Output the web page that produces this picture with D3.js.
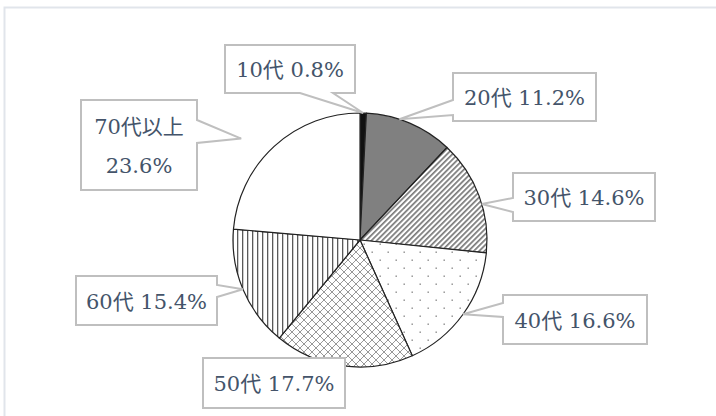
<!DOCTYPE html>
<html>
<head>
<meta charset="utf-8">
<script src="https://cdn.jsdelivr.net/npm/d3@7"></script>
<style>
  body { margin:0; background:#fff; }
</style>
</head>
<body>
<div id="viz-container"></div>
<script>
// data
let ages = ["10代","20代","30代","40代","50代","60代","70代以上"];
let shares = [0.8, 11.2, 14.6, 16.6, 17.7, 15.4, 23.6];

// fill for each slice (pattern ids)
let fills = ["#111","#808080","url(#p30)","url(#p40)","url(#p50)","url(#p60)","#fff"];

// callout boxes: x,y,w,h, which side the pointer leaves from, where it leaves,
// tip distance (x radius) and a small angle nudge in degrees
let boxes = [
  {x:225, y:45,  w:130, h:48, side:"bottom", b1:300, b2:333, tipR:1.0, nudge:0},
  {x:453, y:73,  w:143, h:48, side:"left",   b1:100, b2:115, tipR:1.0, nudge:-5},
  {x:513, y:173, w:142, h:48, side:"left",   b1:198, b2:212, tipR:1.0, nudge:4},
  {x:503, y:295, w:144, h:49, side:"left",   b1:303, b2:317, tipR:1.0, nudge:0},
  {x:203, y:358, w:142, h:50, side:"none"},
  {x:76,  y:276, w:141, h:49, side:"right",  b1:285, b2:297, tipR:1.0, nudge:0},
  {x:81,  y:100, w:116, h:90, side:"right",  b1:120, b2:143, tipR:1.23, nudge:-7, wrap:true}
];

let cx = 360, cy = 240, r = 127;

let viz = d3.select("#viz-container")
  .append("svg")
    .attr("width",716)
    .attr("height",416);

// chart frame
viz.append("rect")
  .attr("x",4.5).attr("y",7.5)
  .attr("width",730).attr("height",430)
  .attr("fill","#fff")
  .attr("stroke","#e1e5eb")
  .attr("stroke-width",2);

let defs = viz.append("defs");

// 30代: diagonal stripes
let p30 = defs.append("pattern").attr("id","p30")
  .attr("patternUnits","userSpaceOnUse")
  .attr("width",3.8).attr("height",3.8)
  .attr("patternTransform","rotate(45)");
p30.append("rect").attr("width",3.8).attr("height",3.8).attr("fill","#fff");
p30.append("rect").attr("width",1.7).attr("height",3.8).attr("fill","#7a7a7a");

// 40代: sparse dots
let p40 = defs.append("pattern").attr("id","p40")
  .attr("patternUnits","userSpaceOnUse")
  .attr("width",16).attr("height",16);
p40.append("rect").attr("width",16).attr("height",16).attr("fill","#fff");
p40.append("rect").attr("x",3.5).attr("y",3.5).attr("width",1.4).attr("height",1.4).attr("fill","#888");
p40.append("rect").attr("x",11.5).attr("y",11.5).attr("width",1.4).attr("height",1.4).attr("fill","#888");

// 50代: diamond lattice
let p50 = defs.append("pattern").attr("id","p50")
  .attr("patternUnits","userSpaceOnUse")
  .attr("width",8).attr("height",8);
p50.append("rect").attr("width",8).attr("height",8).attr("fill","#fff");
p50.append("path").attr("d","M0,0L8,8M8,0L0,8M-1,7L1,9M7,-1L9,1M-1,1L1,-1M7,9L9,7")
  .attr("stroke","#8c8c8c").attr("stroke-width",0.9);

// 60代: vertical lines
let p60 = defs.append("pattern").attr("id","p60")
  .attr("patternUnits","userSpaceOnUse")
  .attr("width",5).attr("height",5);
p60.append("rect").attr("width",5).attr("height",5).attr("fill","#fff");
p60.append("rect").attr("x",2).attr("width",1.3).attr("height",5).attr("fill","#5a5a5a");

let pie = d3.pie().sort(null).value(function(d){ return d; });
let slices = pie(shares);
let arc = d3.arc().innerRadius(0).outerRadius(r);

let g = viz.append("g").attr("transform","translate("+cx+","+cy+")");

g.selectAll(".slice").data(slices).enter()
  .append("path")
    .attr("class","slice")
    .attr("d",arc)
    .attr("fill",function(d,i){ return fills[i]; })
    .attr("stroke","#222")
    .attr("stroke-width",1.2)
    .attr("stroke-linejoin","round");

// where the pointer of each callout ends
function tip(i){
  let s = slices[i];
  let a = (s.startAngle + s.endAngle)/2 + boxes[i].nudge*Math.PI/180;
  let rr = r*boxes[i].tipR;
  return [cx + rr*Math.sin(a), cy - rr*Math.cos(a)];
}

function calloutPath(b,i){
  let x=b.x, y=b.y, w=b.w, h=b.h;
  if (b.side=="none"){
    return "M"+x+","+y+"H"+(x+w)+"V"+(y+h)+"H"+x+"Z";
  }
  let t = tip(i);
  if (b.side=="left"){
    return "M"+x+","+y+"H"+(x+w)+"V"+(y+h)+"H"+x+"V"+b.b2+"L"+t[0]+","+t[1]+"L"+x+","+b.b1+"Z";
  }else if (b.side=="right"){
    return "M"+x+","+y+"H"+(x+w)+"V"+b.b1+"L"+t[0]+","+t[1]+"L"+(x+w)+","+b.b2+"V"+(y+h)+"H"+x+"Z";
  }else if (b.side=="bottom"){
    return "M"+x+","+y+"H"+(x+w)+"V"+(y+h)+"H"+b.b2+"L"+t[0]+","+t[1]+"L"+b.b1+","+(y+h)+"H"+x+"Z";
  }
}

viz.selectAll(".callout").data(boxes).enter()
  .append("path")
    .attr("class","callout")
    .attr("d",calloutPath)
    .attr("fill","#fff")
    .attr("stroke","#bfbfbf")
    .attr("stroke-width",2)
    .attr("stroke-linejoin","miter");

let labels = viz.selectAll(".label").data(boxes).enter()
  .append("text")
    .attr("class","label")
    .attr("x",function(b){ return b.x + b.w/2; })
    .attr("y",function(b){ return b.y + b.h/2 + 8; })
    .attr("text-anchor","middle")
    .attr("font-family","'DejaVu Serif','Noto Sans CJK JP',serif")
    .attr("font-size",21)
    .attr("fill","#44546a");

labels.each(function(b,i){
  let t = d3.select(this);
  let pct = shares[i].toFixed(1)+"%";
  if (b.wrap){
    t.append("tspan").attr("x",b.x+b.w/2).attr("dy",-19).text(ages[i]);
    t.append("tspan").attr("x",b.x+b.w/2).attr("dy",39).text(pct);
  }else{
    t.text(ages[i]+" "+pct);
  }
});
</script>
</body>
</html>
